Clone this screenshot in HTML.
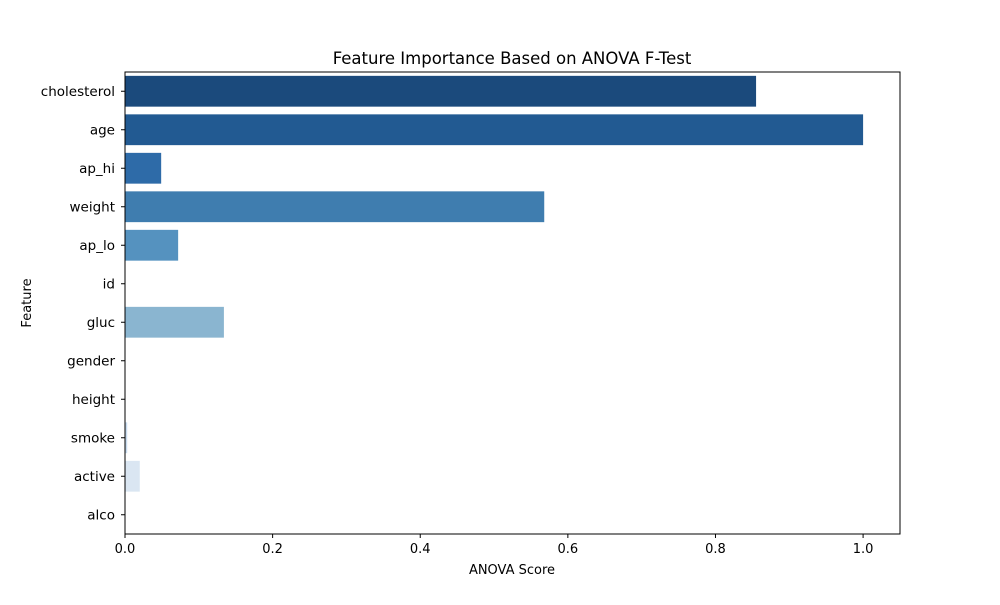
<!DOCTYPE html>
<html><head><meta charset="utf-8"><style>
body{margin:0;background:#fff;font-family:"Liberation Sans","DejaVu Sans",sans-serif}
</style></head><body>
<svg id="chart" width="1000" height="600" xmlns="http://www.w3.org/2000/svg" font-family="DejaVu Sans, Liberation Sans, sans-serif">
<rect width="1000" height="600" fill="#fff"/>
<text x="512" y="64" text-anchor="middle" font-size="16.5">Feature Importance Based on ANOVA F-Test</text>
<g id="bars"></g><g id="xticks"></g><g id="yticks"></g>
<rect x="125" y="72" width="775" height="462" fill="none" stroke="#000" stroke-width="1"/>
<text x="512" y="574" text-anchor="middle" font-size="13">ANOVA Score</text>
<text transform="translate(31,303) rotate(-90)" text-anchor="middle" font-size="13">Feature</text>
</svg>
<script>
const categories=["cholesterol","age","ap_hi","weight","ap_lo","id","gluc","gender","height","smoke","active","alco"];
const scores=[0.855,1.0,0.049,0.568,0.072,0.0,0.134,0.0,0.0,0.003,0.020,0.0];
const colors=["#1b4a7c","#225a92","#2e6ba8","#3f7daf","#5592bf","#6ea4c9","#8ab5d0","#a3c5de","#b7d3e8","#c8dbee","#dae6f2","#e8f0f8"];
const xTicks=[0,0.2,0.4,0.6,0.8,1.0];
const xTickLabels=["0.0","0.2","0.4","0.6","0.8","1.0"];
const NS="http://www.w3.org/2000/svg";
const x0=125,x1=900,y0=72,y1=534,xmax=1.05;
const xs=v=>x0+v/xmax*(x1-x0);
const band=(y1-y0)/categories.length;
const yc=i=>y0+band*(i+0.5);
function mk(t,a,p){const e=document.createElementNS(NS,t);for(const k in a)e.setAttribute(k,a[k]);p.appendChild(e);return e;}
const gb=document.getElementById('bars'),gx=document.getElementById('xticks'),gy=document.getElementById('yticks');
categories.forEach((c,i)=>{
 const h=band*0.8;
 const r=mk('rect',{x:x0,y:yc(i)-h/2,width:Math.max(0,xs(scores[i])-x0),height:h,fill:colors[i]},gb);
 
 
 mk('line',{x1:x0-4,x2:x0,y1:yc(i),y2:yc(i),stroke:'#000'},gy);
 const t=mk('text',{x:x0-10,y:yc(i)+4.5,'text-anchor':'end','font-size':13.5},gy);t.textContent=c;
 
 
});
xTicks.forEach((v,i)=>{
 mk('line',{x1:xs(v),x2:xs(v),y1:y1,y2:y1+4,stroke:'#000'},gx);
 const t=mk('text',{x:xs(v),y:y1+19,'text-anchor':'middle','font-size':13},gx);t.textContent=xTickLabels[i];
 
 
});
</script>
</body></html>
